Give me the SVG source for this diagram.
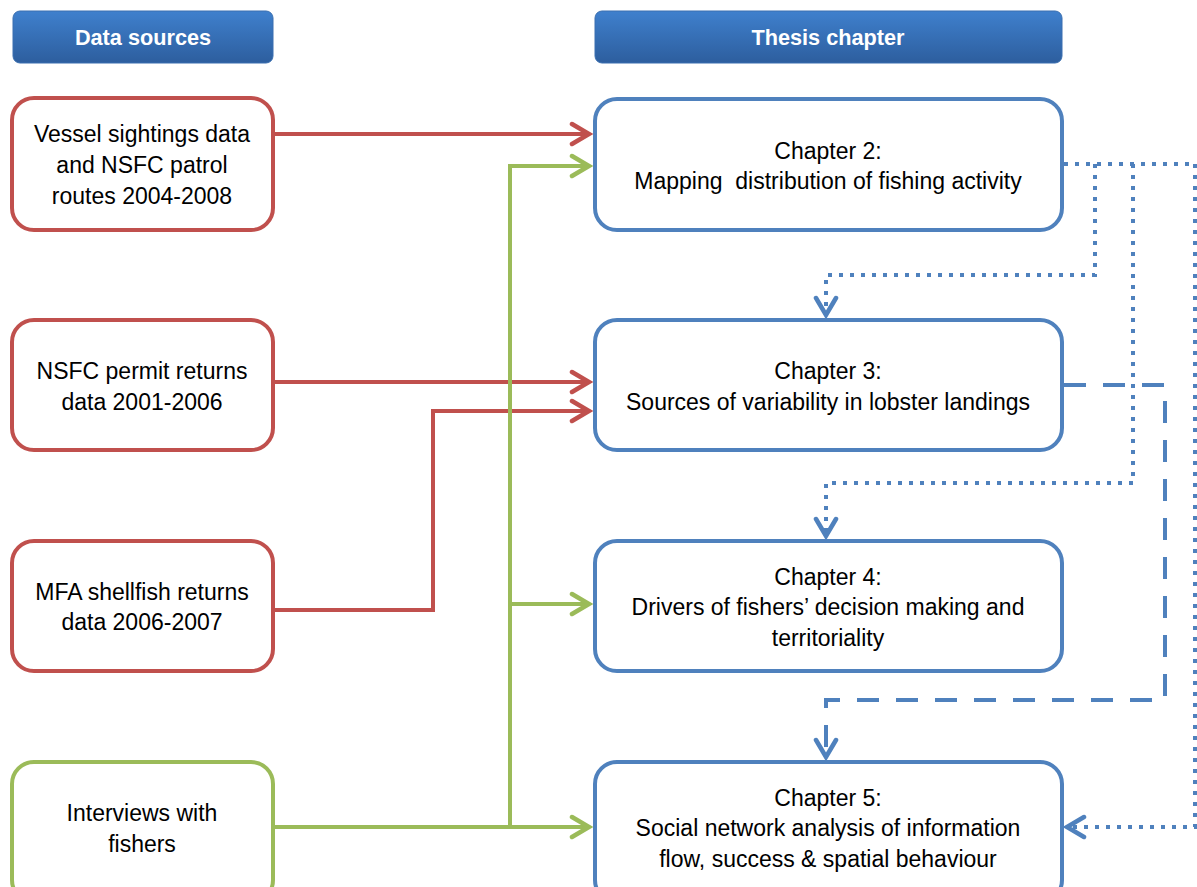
<svg xmlns="http://www.w3.org/2000/svg" width="1197" height="887" viewBox="0 0 1197 887">
<defs>
<linearGradient id="hdr" x1="0" y1="0" x2="0" y2="1">
<stop offset="0" stop-color="#3F80CD"/>
<stop offset="1" stop-color="#2D5E9E"/>
</linearGradient>
<marker id="ar" viewBox="0 0 26 26" refX="23" refY="13" markerWidth="26" markerHeight="26" markerUnits="userSpaceOnUse" orient="auto">
<path d="M5 3 L22 13 L5 23" fill="none" stroke="#C0504D" stroke-width="4.5" stroke-linecap="round"/>
</marker>
<marker id="ag" viewBox="0 0 26 26" refX="23" refY="13" markerWidth="26" markerHeight="26" markerUnits="userSpaceOnUse" orient="auto">
<path d="M5 3 L22 13 L5 23" fill="none" stroke="#9BBB59" stroke-width="4.5" stroke-linecap="round"/>
</marker>
<marker id="ab" viewBox="0 0 26 26" refX="23" refY="13" markerWidth="26" markerHeight="26" markerUnits="userSpaceOnUse" orient="auto">
<path d="M5 3 L22 13 L5 23" fill="none" stroke="#4F81BD" stroke-width="4.5" stroke-linecap="round"/>
</marker>
</defs>
<style>
.hdr{fill:url(#hdr);stroke:#3A6FB0;stroke-width:1}
.ht{font-family:"Liberation Sans",Arial,sans-serif;font-weight:bold;font-size:21.7px;fill:#fff;text-anchor:middle}
.t{font-family:"Liberation Sans",Arial,sans-serif;font-size:23px;fill:#000;text-anchor:middle}
.red{fill:#fff;stroke:#C0504D;stroke-width:4}
.grn{fill:#fff;stroke:#9BBB59;stroke-width:4}
.blu{fill:#fff;stroke:#4F81BD;stroke-width:4}
.cr{fill:none;stroke:#C0504D;stroke-width:4}
.cg{fill:none;stroke:#9BBB59;stroke-width:4}
.dot{fill:none;stroke:#4F81BD;stroke-width:4;stroke-dasharray:4 7}
.dash{fill:none;stroke:#4F81BD;stroke-width:4;stroke-dasharray:22 17}
</style>
<rect width="1197" height="887" fill="#fff"/>
<g id="hdr-data">
<rect class="hdr" x="13" y="11" width="260" height="52" rx="7"/>
<text class="ht" x="143" y="45">Data sources</text>
</g>
<g id="hdr-thesis">
<rect class="hdr" x="595" y="11" width="467" height="52" rx="7"/>
<text class="ht" x="828" y="45">Thesis chapter</text>
</g>
<g id="connectors">
<path class="cr" d="M273 134 H590" marker-end="url(#ar)"/>
<path class="cr" d="M273 382 H590" marker-end="url(#ar)"/>
<path class="cr" d="M273 610 H433 V411 H590" marker-end="url(#ar)"/>
<path class="cg" d="M273 827 H590" marker-end="url(#ag)"/>
<path class="cg" d="M510 827 V166 H590" marker-end="url(#ag)"/>
<path class="cg" d="M510 604 H590" marker-end="url(#ag)"/>
<path class="dot" d="M1064 164 H1195"/>
<path class="dot" d="M1095 164 V275 H826 V316" marker-end="url(#ab)"/>
<path class="dot" d="M1133 164 V483 H826 V537" marker-end="url(#ab)"/>
<path class="dot" d="M1195 164 V827 H1066" marker-end="url(#ab)"/>
<path class="dash" d="M1064 385 H1165 V700 H826 V758" marker-end="url(#ab)"/>
</g>
<g id="src1">
<rect class="red" x="12" y="98" width="261" height="132" rx="22"/>
<text class="t" x="142" y="142">Vessel sightings data</text>
<text class="t" x="142" y="173">and NSFC patrol</text>
<text class="t" x="142" y="204">routes 2004-2008</text>
</g>
<g id="src2">
<rect class="red" x="12" y="320" width="261" height="130" rx="22"/>
<text class="t" x="142" y="379">NSFC permit returns</text>
<text class="t" x="142" y="410">data 2001-2006</text>
</g>
<g id="src3">
<rect class="red" x="12" y="541" width="261" height="130" rx="22"/>
<text class="t" x="142" y="600">MFA shellfish returns</text>
<text class="t" x="142" y="630">data 2006-2007</text>
</g>
<g id="src4">
<rect class="grn" x="12" y="762" width="261" height="140" rx="22"/>
<text class="t" x="142" y="821">Interviews with</text>
<text class="t" x="142" y="852">fishers</text>
</g>
<g id="ch2">
<rect class="blu" x="595" y="99" width="467" height="131" rx="22"/>
<text class="t" x="828" y="159">Chapter 2:</text>
<text class="t" x="828" y="189" xml:space="preserve">Mapping  distribution of fishing activity</text>
</g>
<g id="ch3">
<rect class="blu" x="595" y="320" width="467" height="130" rx="22"/>
<text class="t" x="828" y="379">Chapter 3:</text>
<text class="t" x="828" y="410">Sources of variability in lobster landings</text>
</g>
<g id="ch4">
<rect class="blu" x="595" y="541" width="467" height="130" rx="22"/>
<text class="t" x="828" y="585">Chapter 4:</text>
<text class="t" x="828" y="615">Drivers of fishers’ decision making and</text>
<text class="t" x="828" y="646">territoriality</text>
</g>
<g id="ch5">
<rect class="blu" x="595" y="762" width="467" height="140" rx="22"/>
<text class="t" x="828" y="806">Chapter 5:</text>
<text class="t" x="828" y="836">Social network analysis of information</text>
<text class="t" x="828" y="867">flow, success &amp; spatial behaviour</text>
</g>
</svg>
